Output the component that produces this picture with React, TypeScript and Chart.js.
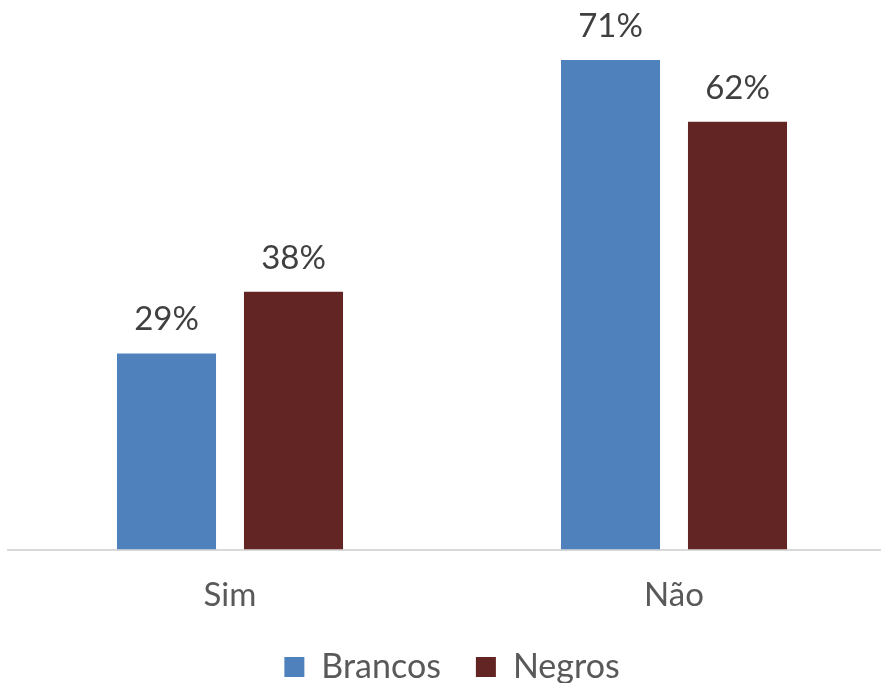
import React, { useEffect, useRef } from "react";
import { Chart, registerables } from "chart.js";

Chart.register(...registerables);

const categories = ["Sim", "Não"];
const seriesNames = ["Brancos", "Negros"];
const brancos = [28.6, 71.4];
const negros = [37.6, 62.4];
const colors = ["#4F81BD", "#632523"];
const FONT = "Lato, 'Open Sans', sans-serif";

const labelPlugin = {
  id: "valueLabels",
  afterDatasetsDraw(chart: any) {
    const ctx = chart.ctx;
    ctx.save();
    ctx.font = `33px ${FONT}`;
    ctx.fillStyle = "#404040";
    ctx.textAlign = "center";
    ctx.textBaseline = "alphabetic";
    chart.data.datasets.forEach((ds: any, i: number) => {
      const meta = chart.getDatasetMeta(i);
      meta.data.forEach((bar: any, j: number) => {
        ctx.fillText(`${Math.round(ds.data[j])}%`, bar.x, bar.y - 23);
      });
    });
    ctx.restore();
  },
};

export default function App() {
  const ref = useRef<HTMLCanvasElement>(null);
  useEffect(() => {
    document.body.style.margin = "0";
    document.body.style.overflow = "hidden";
    document.documentElement.style.overflow = "hidden";
    const chart = new Chart(ref.current!, {
      type: "bar",
      data: {
        labels: categories,
        datasets: [
          { label: seriesNames[0], data: brancos, backgroundColor: colors[0], categoryPercentage: 0.572, barPercentage: 0.78 },
          { label: seriesNames[1], data: negros, backgroundColor: colors[1], categoryPercentage: 0.572, barPercentage: 0.78 },
        ],
      },
      options: {
        animation: false,
        responsive: false,
        layout: { padding: { top: 12, left: 8, right: 0, bottom: 0 } },
        scales: {
          y: { display: false, min: 0, max: 78.4 },
          x: {
            grid: { display: false, drawTicks: true, tickLength: 26.5 },
            border: { display: true, color: "#d9d9d9", width: 2 },
            ticks: { color: "#595959", font: { size: 33, family: FONT, lineHeight: 1 }, padding: 3 },
          },
        },
        plugins: {
          tooltip: { enabled: false },
          legend: {
            position: "bottom",
            labels: {
              color: "#595959",
              font: { size: 34, family: FONT },
              boxWidth: 20,
              boxHeight: 20,
              padding: 35,
            },
          },
        },
      },
      plugins: [labelPlugin],
    });
    return () => chart.destroy();
  }, []);
  return (
    <div style={{ position: "fixed", left: 0, top: 0, width: 896, height: 694 }}>
      <canvas ref={ref} width={896} height={694} style={{ display: "block" }} />
    </div>
  );
}
